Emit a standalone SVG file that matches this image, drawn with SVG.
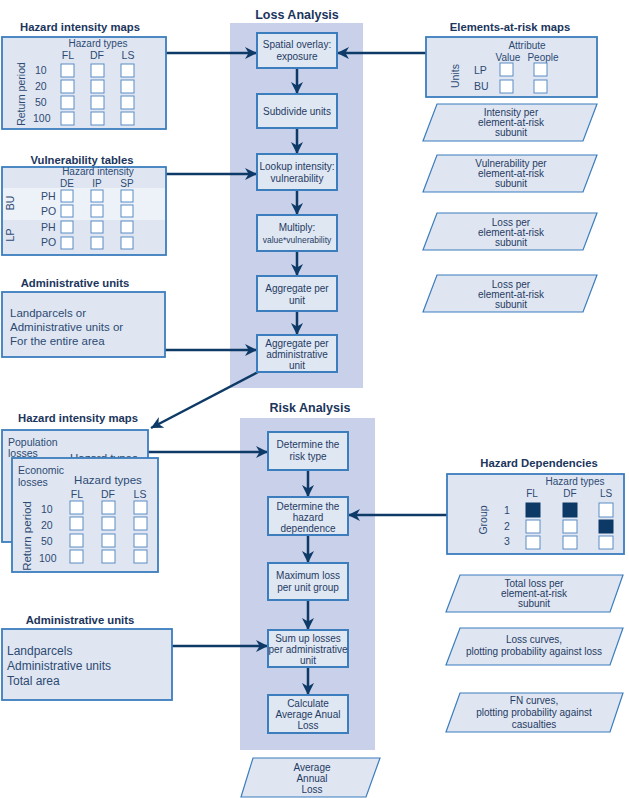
<svg xmlns="http://www.w3.org/2000/svg" width="629" height="798" viewBox="0 0 629 798">
<style>
text{font-family:"Liberation Sans",Arial,sans-serif;fill:#1f3b63}
.title{font-weight:bold;font-size:11.3px;fill:#1b355c}
.bigtitle{font-weight:bold;font-size:12.5px;fill:#1b355c}
.bt{font-size:10px;text-anchor:middle}
.tt{font-size:10.5px;fill:#2d4a72}
.tc{font-size:10.5px;fill:#2d4a72;text-anchor:middle}
.th{font-size:10px;fill:#2d4a72;text-anchor:middle}
.lt{font-size:11.5px;fill:#2d4a72}
.panel{fill:#c8d0ea}
.box{fill:#dfe7f3;stroke:#3b7dbd;stroke-width:2}
.tbl{fill:#dfe6f2;stroke:#3b7dbd;stroke-width:1.8}
.par{fill:#dfe6f2;stroke:#3b7dbd;stroke-width:1.2}
.cb{fill:#ffffff;stroke:#5a8cc4;stroke-width:1}
.cbf{fill:#0c3966;stroke:#0c3966;stroke-width:1}
.con{fill:none;stroke:#0d3a66;stroke-width:2.5}
</style>
<defs>
<marker id="ah" viewBox="0 0 10 10" markerUnits="userSpaceOnUse" markerWidth="12" markerHeight="12" refX="10" refY="5" orient="auto">
<path d="M0,0 L10,5 L0,10 L3,5 z" fill="#0d3a66"/>
</marker>
</defs>
<rect width="629" height="798" fill="#ffffff"/>

<!-- panels -->
<g id="loss-panel">
<rect class="panel" x="230" y="23" width="133" height="365"/>
<text class="bigtitle" x="297" y="19" text-anchor="middle">Loss Analysis</text>
</g>
<g id="risk-panel">
<rect class="panel" x="240" y="418" width="135" height="332"/>
<text class="bigtitle" x="310" y="412" text-anchor="middle">Risk Analysis</text>
</g>

<!-- connectors -->
<g id="connectors">
<line class="con" x1="166" y1="53" x2="257" y2="53" marker-end="url(#ah)"/>
<line class="con" x1="426" y1="53" x2="337" y2="53" marker-end="url(#ah)"/>
<line class="con" x1="166" y1="174" x2="257" y2="174" marker-end="url(#ah)"/>
<line class="con" x1="165" y1="350" x2="257" y2="350" marker-end="url(#ah)"/>
<line class="con" x1="297" y1="68" x2="297" y2="94" marker-end="url(#ah)"/>
<line class="con" x1="297" y1="128" x2="297" y2="154" marker-end="url(#ah)"/>
<line class="con" x1="297" y1="190" x2="297" y2="215" marker-end="url(#ah)"/>
<line class="con" x1="297" y1="251" x2="297" y2="276" marker-end="url(#ah)"/>
<line class="con" x1="297" y1="311" x2="297" y2="335" marker-end="url(#ah)"/>
<line class="con" x1="258" y1="372" x2="151" y2="428" marker-end="url(#ah)"/>
<line class="con" x1="148" y1="452" x2="268" y2="452" marker-end="url(#ah)"/>
<line class="con" x1="447" y1="515" x2="348" y2="515" marker-end="url(#ah)"/>
<line class="con" x1="172" y1="646" x2="268" y2="646" marker-end="url(#ah)"/>
<line class="con" x1="308" y1="470" x2="308" y2="497" marker-end="url(#ah)"/>
<line class="con" x1="308" y1="535" x2="308" y2="563" marker-end="url(#ah)"/>
<line class="con" x1="308" y1="600" x2="308" y2="630" marker-end="url(#ah)"/>
<line class="con" x1="308" y1="667" x2="308" y2="695" marker-end="url(#ah)"/>
</g>

<!-- Loss analysis boxes -->
<g id="spatial-overlay"><rect class="box" x="257" y="33" width="80" height="35"/><text class="bt" x="297" y="48">Spatial overlay:</text><text class="bt" x="297" y="60">exposure</text></g>
<g id="subdivide"><rect class="box" x="257" y="94" width="80" height="34"/><text class="bt" x="297" y="115">Subdivide units</text></g>
<g id="lookup"><rect class="box" x="257" y="154" width="80" height="36"/><text class="bt" x="297" y="170">Lookup intensity:</text><text class="bt" x="297" y="182">vulnerability</text></g>
<g id="multiply"><rect class="box" x="257" y="215" width="80" height="36"/><text class="bt" x="297" y="231">Multiply:</text><text class="bt" x="297" y="243" style="font-size:8.5px">value*vulnerability</text></g>
<g id="aggregate-unit"><rect class="box" x="257" y="276" width="80" height="35"/><text class="bt" x="297" y="292">Aggregate per</text><text class="bt" x="297" y="304">unit</text></g>
<g id="aggregate-admin"><rect class="box" x="257" y="335" width="80" height="37"/><text class="bt" x="297" y="347">Aggregate per</text><text class="bt" x="297" y="358">administrative</text><text class="bt" x="297" y="369">unit</text></g>

<!-- Risk analysis boxes -->
<g id="risk-type"><rect class="box" x="268" y="432" width="80" height="38"/><text class="bt" x="308" y="448">Determine the</text><text class="bt" x="308" y="460">risk type</text></g>
<g id="hazard-dependence"><rect class="box" x="268" y="497" width="80" height="38"/><text class="bt" x="308" y="510">Determine the</text><text class="bt" x="308" y="521">hazard</text><text class="bt" x="308" y="532">dependence</text></g>
<g id="max-loss"><rect class="box" x="268" y="563" width="80" height="37"/><text class="bt" x="308" y="579">Maximum loss</text><text class="bt" x="308" y="591">per unit group</text></g>
<g id="sum-up"><rect class="box" x="268" y="630" width="80" height="37"/><text class="bt" x="308" y="642">Sum up losses</text><text class="bt" x="308" y="653">per administrative</text><text class="bt" x="308" y="664">unit</text></g>
<g id="calc-aal"><rect class="box" x="268" y="695" width="80" height="38"/><text class="bt" x="308" y="707">Calculate</text><text class="bt" x="308" y="718">Average Anual</text><text class="bt" x="308" y="729">Loss</text></g>

<!-- Hazard intensity maps top -->
<g id="hazard-maps-top">
<text class="title" x="80" y="31" text-anchor="middle">Hazard intensity maps</text>
<rect class="tbl" x="2" y="37" width="164" height="92"/>
<text class="th" x="98" y="47">Hazard types</text>
<text class="tc" x="68" y="59">FL</text><text class="tc" x="97" y="59">DF</text><text class="tc" x="128" y="59">LS</text>
<text class="tc" transform="translate(25,94) rotate(-90)">Return period</text>
<text class="tt" x="35" y="74">10</text><text class="tt" x="35" y="90">20</text><text class="tt" x="35" y="106">50</text><text class="tt" x="33" y="122">100</text>
<rect class="cb" x="61" y="64" width="13" height="13"/><rect class="cb" x="91" y="64" width="13" height="13"/><rect class="cb" x="121" y="64" width="13" height="13"/>
<rect class="cb" x="61" y="80" width="13" height="13"/><rect class="cb" x="91" y="80" width="13" height="13"/><rect class="cb" x="121" y="80" width="13" height="13"/>
<rect class="cb" x="61" y="96" width="13" height="13"/><rect class="cb" x="91" y="96" width="13" height="13"/><rect class="cb" x="121" y="96" width="13" height="13"/>
<rect class="cb" x="61" y="112" width="13" height="13"/><rect class="cb" x="91" y="112" width="13" height="13"/><rect class="cb" x="121" y="112" width="13" height="13"/>
</g>

<!-- Vulnerability tables -->
<g id="vulnerability-tables">
<text class="title" x="82" y="164" text-anchor="middle">Vulnerability tables</text>
<rect class="tbl" x="2" y="167" width="164" height="88"/>
<rect x="3" y="188" width="162" height="32" fill="#edf1f8"/>
<text class="th" x="98" y="175">Hazard intensity</text>
<text class="th" x="67" y="187">DE</text><text class="th" x="97" y="187">IP</text><text class="th" x="127" y="187">SP</text>
<text class="tc" transform="translate(14,203) rotate(-90)">BU</text>
<text class="tc" transform="translate(14,235) rotate(-90)">LP</text>
<text class="tt" x="41" y="200">PH</text><text class="tt" x="41" y="215">PO</text><text class="tt" x="41" y="231">PH</text><text class="tt" x="41" y="246">PO</text>
<rect class="cb" x="61" y="190" width="12" height="12"/><rect class="cb" x="91" y="190" width="12" height="12"/><rect class="cb" x="121" y="190" width="12" height="12"/>
<rect class="cb" x="61" y="205" width="12" height="12"/><rect class="cb" x="91" y="205" width="12" height="12"/><rect class="cb" x="121" y="205" width="12" height="12"/>
<rect class="cb" x="61" y="221" width="12" height="12"/><rect class="cb" x="91" y="221" width="12" height="12"/><rect class="cb" x="121" y="221" width="12" height="12"/>
<rect class="cb" x="61" y="237" width="12" height="12"/><rect class="cb" x="91" y="237" width="12" height="12"/><rect class="cb" x="121" y="237" width="12" height="12"/>
</g>

<!-- Administrative units top -->
<g id="admin-units-top">
<text class="title" x="75" y="287" text-anchor="middle">Administrative units</text>
<rect class="tbl" x="2" y="292" width="163" height="65"/>
<text class="lt" x="10" y="317">Landparcels or</text>
<text class="lt" x="10" y="331">Administrative units or</text>
<text class="lt" x="10" y="345">For the entire area</text>
</g>

<!-- Elements-at-risk maps -->
<g id="elements-at-risk">
<text class="title" x="510" y="31" text-anchor="middle">Elements-at-risk maps</text>
<rect class="tbl" x="426" y="37" width="171" height="60"/>
<text class="th" x="527" y="49">Attribute</text>
<text class="th" x="508" y="61">Value</text><text class="th" x="543" y="61">People</text>
<text class="tc" transform="translate(459,76) rotate(-90)">Units</text>
<text class="tt" x="474" y="74">LP</text><text class="tt" x="474" y="90">BU</text>
<rect class="cb" x="500" y="63" width="13" height="13"/><rect class="cb" x="534" y="63" width="13" height="13"/>
<rect class="cb" x="500" y="80" width="13" height="13"/><rect class="cb" x="534" y="80" width="13" height="13"/>
</g>

<!-- right parallelograms (loss) -->
<g id="out-intensity"><polygon class="par" points="437,104 597,104 583,141 423,141"/><text class="bt" x="511" y="116">Intensity per</text><text class="bt" x="511" y="126">element-at-risk</text><text class="bt" x="511" y="136">subunit</text></g>
<g id="out-vulnerability"><polygon class="par" points="437,155 597,155 583,192 423,192"/><text class="bt" x="511" y="167">Vulnerability per</text><text class="bt" x="511" y="177">element-at-risk</text><text class="bt" x="511" y="187">subunit</text></g>
<g id="out-loss1"><polygon class="par" points="437,213 597,213 583,250 423,250"/><text class="bt" x="511" y="226">Loss per</text><text class="bt" x="511" y="236">element-at-risk</text><text class="bt" x="511" y="246">subunit</text></g>
<g id="out-loss2"><polygon class="par" points="437,275 597,275 583,312 423,312"/><text class="bt" x="511" y="288">Loss per</text><text class="bt" x="511" y="298">element-at-risk</text><text class="bt" x="511" y="308">subunit</text></g>

<!-- Hazard intensity maps lower -->
<g id="hazard-maps-lower">
<text class="title" x="78" y="422" text-anchor="middle">Hazard intensity maps</text>
<rect class="tbl" x="2" y="430" width="146" height="112"/>
<text class="tt" x="8" y="446">Population</text>
<text class="tt" x="8" y="457">losses</text>
<text class="tt" x="70" y="462" style="font-size:11.5px">Hazard types</text>
<rect class="tbl" x="12" y="458" width="146" height="114"/>
<text class="tt" x="18" y="474">Economic</text>
<text class="tt" x="18" y="486">losses</text>
<text class="tc" x="108" y="484" style="font-size:11.5px">Hazard types</text>
<text class="tc" x="77" y="498">FL</text><text class="tc" x="108" y="498">DF</text><text class="tc" x="140" y="498">LS</text>
<text class="tc" transform="translate(31,536) rotate(-90)" style="font-size:11.5px">Return period</text>
<text class="tt" x="41" y="513">10</text><text class="tt" x="41" y="529">20</text><text class="tt" x="41" y="545">50</text><text class="tt" x="39" y="562">100</text>
<rect class="cb" x="70" y="501" width="13" height="13"/><rect class="cb" x="102" y="501" width="13" height="13"/><rect class="cb" x="134" y="501" width="13" height="13"/>
<rect class="cb" x="70" y="517" width="13" height="13"/><rect class="cb" x="102" y="517" width="13" height="13"/><rect class="cb" x="134" y="517" width="13" height="13"/>
<rect class="cb" x="70" y="534" width="13" height="13"/><rect class="cb" x="102" y="534" width="13" height="13"/><rect class="cb" x="134" y="534" width="13" height="13"/>
<rect class="cb" x="70" y="550" width="13" height="13"/><rect class="cb" x="102" y="550" width="13" height="13"/><rect class="cb" x="134" y="550" width="13" height="13"/>
</g>

<!-- Administrative units lower -->
<g id="admin-units-lower">
<text class="title" x="80" y="624" text-anchor="middle">Administrative units</text>
<rect class="tbl" x="2" y="629" width="170" height="71"/>
<text class="lt" x="7" y="655" style="font-size:12px">Landparcels</text>
<text class="lt" x="7" y="670" style="font-size:12px">Administrative units</text>
<text class="lt" x="7" y="685" style="font-size:12px">Total area</text>
</g>

<!-- Hazard Dependencies -->
<g id="hazard-dependencies">
<text class="title" x="539" y="467" text-anchor="middle">Hazard Dependencies</text>
<rect class="tbl" x="447" y="474" width="177" height="80"/>
<text class="th" x="575" y="485">Hazard types</text>
<text class="th" x="532" y="497">FL</text><text class="th" x="570" y="497">DF</text><text class="th" x="606" y="497">LS</text>
<text class="tc" transform="translate(487,520) rotate(-90)">Group</text>
<text class="tt" x="504" y="514">1</text><text class="tt" x="504" y="530">2</text><text class="tt" x="504" y="545">3</text>
<rect class="cbf" x="526" y="503" width="14" height="14"/><rect class="cbf" x="563" y="503" width="14" height="14"/><rect class="cb" x="599" y="503" width="14" height="14"/>
<rect class="cb" x="526" y="520" width="14" height="13"/><rect class="cb" x="563" y="520" width="14" height="13"/><rect class="cbf" x="599" y="520" width="14" height="13"/>
<rect class="cb" x="526" y="536" width="14" height="13"/><rect class="cb" x="563" y="536" width="14" height="13"/><rect class="cb" x="599" y="536" width="14" height="13"/>
</g>

<!-- right parallelograms (risk) -->
<g id="out-total-loss"><polygon class="par" points="460,575 623,575 610,612 446,612"/><text class="bt" x="534" y="587">Total loss per</text><text class="bt" x="534" y="597">element-at-risk</text><text class="bt" x="534" y="607">subunit</text></g>
<g id="out-loss-curves"><polygon class="par" points="460,628 623,628 610,665 446,665"/><text class="bt" x="534" y="643">Loss curves,</text><text class="bt" x="534" y="655">plotting probability against loss</text></g>
<g id="out-fn-curves"><polygon class="par" points="460,693 623,693 610,732 446,732"/><text class="bt" x="534" y="704">FN curves,</text><text class="bt" x="534" y="716">plotting probability against</text><text class="bt" x="534" y="728">casualties</text></g>

<!-- AAL output -->
<g id="out-aal"><polygon class="par" points="253,758 380,758 366,797 241,797"/><text class="bt" x="312" y="771">Average</text><text class="bt" x="312" y="782">Annual</text><text class="bt" x="312" y="793">Loss</text></g>
</svg>
